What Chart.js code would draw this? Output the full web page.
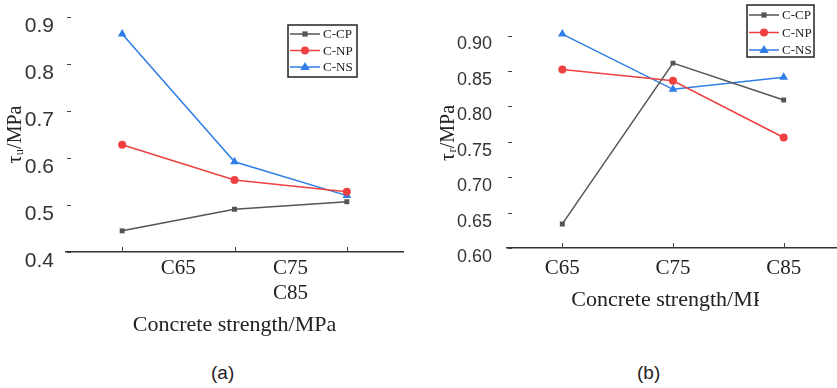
<!DOCTYPE html>
<html>
<head>
<meta charset="utf-8">
<script src="https://cdn.jsdelivr.net/npm/chart.js@4.4.1/dist/chart.umd.min.js"></script>
<style>
  body { margin: 0; width: 837px; height: 388px; overflow: hidden; background: #fff; position: relative; }
  #chartA { position: absolute; left: 0; top: 0; }
  #chartB { position: absolute; left: 420px; top: 0; }
  .cap { position: absolute; top: 362px; font: 19px "Liberation Sans", Arial, sans-serif; color: #222; }
</style>
</head>
<body>
<canvas id="chartA" width="415" height="345"></canvas>
<canvas id="chartB" width="424" height="345"></canvas>
<div class="cap" style="left:211px">(a)</div>
<div class="cap" style="left:637px">(b)</div>
<script>
// categories and series
const strengths = ['C65', 'C75', 'C85'];
const seriesNames = ['C-CP', 'C-NP', 'C-NS'];

// (a) tau_u, MPa
const cpUltimate = [0.445, 0.491, 0.507];
const npUltimate = [0.628, 0.553, 0.528];
const nsUltimate = [0.864, 0.592, 0.520];

// (b) tau_r, MPa
const cpResidual = [0.634, 0.861, 0.809];
const npResidual = [0.852, 0.836, 0.756];
const nsResidual = [0.902, 0.824, 0.841];

const colors = ['#555555', '#ee4040', '#2f7de6'];
const pointStyles = ['rect', 'circle', 'triangle'];
const pointSizes = [3.5, 4, 5];

const serif = '"Liberation Serif", "Times New Roman", serif';
const sans = '"Liberation Sans", Arial, sans-serif';

function makeDatasets(values) {
    return values.map((v, i) => ({
        label: seriesNames[i],
        data: v,
        borderColor: colors[i],
        backgroundColor: colors[i],
        borderWidth: 1.5,
        pointStyle: pointStyles[i],
        pointRadius: pointSizes[i],
        pointBorderWidth: 0,
        tension: 0
    }));
}

function drawMarker(ctx, style, x, y, r) {
    ctx.beginPath();
    if (style === 'rect') {
        ctx.rect(x - r * 0.75, y - r * 0.75, r * 1.5, r * 1.5);
    } else if (style === 'circle') {
        ctx.arc(x, y, r, 0, Math.PI * 2);
    } else {
        ctx.moveTo(x, y - r);
        ctx.lineTo(x + r * 0.95, y + r * 0.6);
        ctx.lineTo(x - r * 0.95, y + r * 0.6);
        ctx.closePath();
    }
    ctx.fill();
}

// inward tick marks, boxed legend, title mask
const extras = {
    id: 'extras',
    afterDraw(chart, args, opts) {
        const ctx = chart.ctx;
        const xs = chart.scales.x, ys = chart.scales.y;
        ctx.save();
        ctx.strokeStyle = '#444';
        ctx.lineWidth = 1;
        xs.ticks.forEach((t, i) => {
            const px = Math.round(xs.getPixelForTick(i)) + 0.5;
            ctx.beginPath();
            ctx.moveTo(px, xs.top);
            ctx.lineTo(px, xs.top - 5);
            ctx.stroke();
        });
        ys.ticks.forEach(t => {
            if (t.value < ys.min - 1e-9 || t.value > ys.max + 1e-9) return;
            const py = Math.round(ys.getPixelForValue(t.value)) + 0.5;
            ctx.beginPath();
            ctx.moveTo(ys.right + 1, py);
            ctx.lineTo(ys.right + 5, py);
            ctx.stroke();
        });

        if (opts.mask) {
            ctx.fillStyle = '#fff';
            ctx.fillRect(opts.mask.x, opts.mask.y, opts.mask.w, opts.mask.h);
        }

        const lg = opts.legend;
        ctx.strokeStyle = '#222';
        ctx.lineWidth = 1.5;
        ctx.strokeRect(lg.x, lg.y, lg.w, lg.h);
        ctx.font = '13px ' + serif;
        ctx.textBaseline = 'middle';
        chart.data.datasets.forEach((ds, i) => {
            const ry = lg.y + lg.first + i * lg.step;
            ctx.strokeStyle = ds.borderColor;
            ctx.lineWidth = 1.5;
            ctx.beginPath();
            ctx.moveTo(lg.x + 2, ry);
            ctx.lineTo(lg.x + 32, ry);
            ctx.stroke();
            ctx.fillStyle = ds.backgroundColor;
            drawMarker(ctx, ds.pointStyle, lg.x + 17, ry, ds.pointRadius);
            ctx.fillStyle = '#222';
            ctx.fillText(ds.label, lg.x + 35, ry + 1);
        });
        ctx.restore();
    }
};

function buildChart(id, values, cfg) {
    const ctx = document.getElementById(id).getContext('2d');
    return new Chart(ctx, {
        type: 'line',
        data: { labels: strengths, datasets: makeDatasets(values) },
        plugins: [extras],
        options: {
            responsive: false,
            animation: false,
            layout: { padding: cfg.padding },
            plugins: {
                legend: { display: false },
                tooltip: { enabled: false },
                extras: { legend: cfg.legend, mask: cfg.mask }
            },
            scales: {
                x: {
                    type: 'category',
                    offset: true,
                    afterFit: s => { s.height = cfg.xHeight; },
                    grid: { display: false },
                    border: { display: true, color: '#333', width: 1.5 },
                    ticks: {
                        autoSkip: false, maxRotation: 0,
                        padding: cfg.xTickPad,
                        labelOffset: cfg.xLabelOffset,
                        color: '#222',
                        font: { family: serif, size: 21 },
                        callback: cfg.xLabels
                    },
                    title: {
                        display: true, text: 'Concrete strength/MPa', color: '#222',
                        font: { family: serif, size: 22 },
                        padding: { top: 0, bottom: cfg.xTitlePad }
                    }
                },
                y: {
                    min: cfg.yMin, max: cfg.yMax,
                    afterFit: s => { s.width = cfg.yWidth; },
                    grid: { display: false },
                    border: { display: false },
                    ticks: {
                        stepSize: cfg.yStep,
                        padding: cfg.yTickPad,
                        labelOffset: 9,
                        color: '#333',
                        font: { family: sans, size: cfg.yFont },
                        callback: cfg.yLabels
                    },
                    title: {
                        display: true, text: cfg.yTitle, color: '#222',
                        font: { family: serif, size: 20 },
                        padding: { top: cfg.yTitlePad, bottom: 0 }
                    }
                }
            }
        }
    });
}

const nearMultiple = (v, step) => Math.abs(v / step - Math.round(v / step)) < 1e-6;

buildChart('chartA', [cpUltimate, npUltimate, nsUltimate], {
    padding: { top: 17, left: 0, right: 12, bottom: 0 },
    xHeight: 93, xTickPad: -4, xLabelOffset: 56, xTitlePad: 7,
    xLabels: (v, i) => i === 0 ? strengths[0] : (i === 1 ? [strengths[1], strengths[2]] : ''),
    yMin: 0.4, yMax: 0.9, yStep: 0.05, yWidth: 66, yTickPad: 4, yTitlePad: 4, yFont: 21,
    yLabels: v => nearMultiple(v, 0.1) ? v.toFixed(1) : '',
    yTitle: 'τᵤ/MPa',
    legend: { x: 288, y: 25, w: 69, h: 52, first: 9, step: 16.5 },
    mask: null
});

buildChart('chartB', [cpResidual, npResidual, nsResidual], {
    padding: { top: 15, left: 0, right: 0, bottom: 0 },
    xHeight: 97, xTickPad: 0, xLabelOffset: 0, xTitlePad: 32,
    xLabels: (v, i) => strengths[i],
    yMin: 0.6, yMax: 0.925, yStep: 0.025, yWidth: 87, yTickPad: 7, yTitlePad: 17, yFont: 18,
    yLabels: v => nearMultiple(v, 0.05) ? v.toFixed(2) : '',
    yTitle: 'τᵣ/MPa',
    legend: { x: 327, y: 5, w: 67, h: 52, first: 10, step: 17.5 },
    mask: { x: 339, y: 283, w: 85, h: 34 }
});
</script>
</body>
</html>
